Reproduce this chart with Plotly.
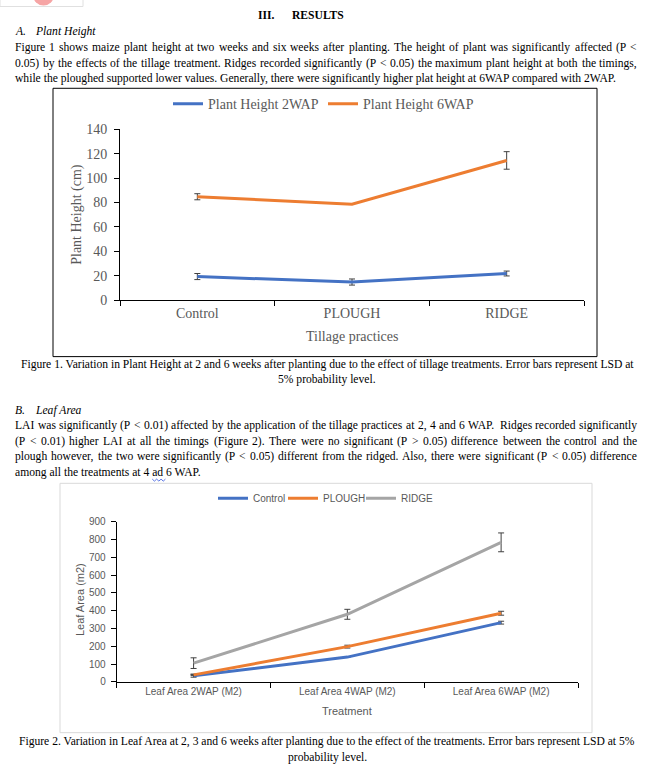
import plotly.graph_objects as go

W, H = 654, 771

# ---------- data ----------
tillage = ["Control", "PLOUGH", "RIDGE"]
height_2wap = [19.3, 14.8, 21.8]
height_2wap_err = [2.5, 2.5, 2.0]
height_6wap = [84.8, 78.6, 114.6]
height_6wap_err = [2.5, 0.0, 7.2]

stages = ["Leaf Area 2WAP (M2)", "Leaf Area 4WAP (M2)", "Leaf Area 6WAP (M2)"]
la_control = [34, 139, 333]
la_control_err = [8, 0, 8]
la_plough = [39, 198, 386]
la_plough_err = [4, 8, 11]
la_ridge = [105, 380, 785]
la_ridge_err = [30, 28, 53]

y1_ticks = [0, 20, 40, 60, 80, 100, 120, 140]
y2_ticks = [0, 100, 200, 300, 400, 500, 600, 700, 800, 900]

BLUE, ORANGE, GREY = "#4472C4", "#ED7D31", "#A5A5A5"
TXT = "#595959"
SERIF = "Liberation Serif, Times New Roman, serif"
SANS = "Liberation Sans, Arial, sans-serif"
BODY = 11.6


def px(x):
    return x / W


def py(y):
    # vertical page position -> paper fraction (with a small calibration)
    yc = (y - 5.5) / 0.983
    return 1 - yc / H


fig = go.Figure()

# ---------- chart 1 ----------
err_style = dict(type="data", color="#404040", thickness=1, width=3, visible=True)
fig.add_trace(go.Scatter(x=tillage, y=height_2wap, mode="lines", name="Plant Height 2WAP",
                         line=dict(color=BLUE, width=3),
                         error_y=dict(array=height_2wap_err, **err_style),
                         xaxis="x", yaxis="y", legend="legend"))
fig.add_trace(go.Scatter(x=tillage, y=height_6wap, mode="lines", name="Plant Height 6WAP",
                         line=dict(color=ORANGE, width=3),
                         error_y=dict(array=height_6wap_err, **err_style),
                         xaxis="x", yaxis="y", legend="legend"))

# ---------- chart 2 ----------
for name, vals, errs, col, lw in [("Control", la_control, la_control_err, BLUE, 25),
                                  ("PLOUGH", la_plough, la_plough_err, ORANGE, 33),
                                  ("RIDGE", la_ridge, la_ridge_err, GREY, 30)]:
    fig.add_trace(go.Scatter(x=stages, y=vals, mode="lines", name=name,
                             line=dict(color=col, width=3), legendwidth=lw,
                             error_y=dict(array=errs, **err_style),
                             xaxis="x2", yaxis="y2", legend="legend2"))

axis_common = dict(showgrid=False, zeroline=False, showline=True, linecolor="#000000",
                   linewidth=1, ticks="outside", ticklen=5, tickcolor="#000000")

fig.update_layout(
    width=W, height=H, margin=dict(l=0, r=0, t=0, b=0),
    paper_bgcolor="white", plot_bgcolor="rgba(0,0,0,0)",
    showlegend=True,
    xaxis=dict(domain=[px(120), px(584)], anchor="y", type="category",
               range=[-0.5, 2.5], tickson="boundaries",
               tickfont=dict(family=SERIF, size=14, color=TXT), **axis_common),
    yaxis=dict(domain=[py(299.3), py(128.3)], anchor="x", range=[0, 140],
               tickvals=y1_ticks, ticklabelstandoff=4,
               tickfont=dict(family=SERIF, size=14, color=TXT), **axis_common),
    xaxis2=dict(domain=[px(116.7), px(578)], anchor="y2", type="category",
                range=[-0.5, 2.5], tickson="boundaries",
                tickfont=dict(family=SANS, size=10, color=TXT), **axis_common),
    yaxis2=dict(domain=[py(682), py(521.7)], anchor="x2", range=[0, 900],
                tickvals=y2_ticks, ticklabelstandoff=3,
                tickfont=dict(family=SANS, size=10, color=TXT), **axis_common),
    legend=dict(orientation="h", x=px(168), xanchor="left", y=py(103), yanchor="middle",
                font=dict(family=SERIF, size=14, color=TXT), bgcolor="rgba(0,0,0,0)",
                entrywidth=110, tracegroupgap=0),
    legend2=dict(orientation="h", x=px(213), xanchor="left", y=py(498), yanchor="middle",
                 font=dict(family=SANS, size=10, color=TXT), bgcolor="rgba(0,0,0,0)",
                 tracegroupgap=0),
)

# ---------- boxes ----------
shapes = [
    dict(type="rect", xref="paper", yref="paper", x0=px(53), x1=px(597), y0=py(356), y1=py(87),
         line=dict(color="#000000", width=1), fillcolor="rgba(0,0,0,0)"),
    dict(type="rect", xref="paper", yref="paper", x0=px(60), x1=px(592), y0=py(733), y1=py(483),
         line=dict(color="#D9D9D9", width=1), fillcolor="rgba(0,0,0,0)"),
    dict(type="rect", xref="paper", yref="paper", x0=px(0), x1=px(83), y0=py(5), y1=py(-8),
         line=dict(color="#E0E0E0", width=1), fillcolor="white"),
    dict(type="circle", xref="paper", yref="paper", x0=px(33), x1=px(54), y0=py(4), y1=py(-17),
         line=dict(width=0), fillcolor="#F6A5A5"),
]

# ---------- text ----------
ann = []

TNR = {' ': 250, '!': 333, '%': 833, "'": 333, '(': 333, ')': 333, ',': 250, '-': 333, '.': 250,
       '/': 278, ':': 278, ';': 278, '<': 564, '=': 564, '>': 564, '?': 444,
       'A': 722, 'B': 667, 'C': 667, 'D': 722, 'E': 611, 'F': 556, 'G': 722, 'H': 722, 'I': 333,
       'J': 389, 'K': 722, 'L': 611, 'M': 889, 'N': 722, 'O': 722, 'P': 556, 'Q': 722, 'R': 667,
       'S': 556, 'T': 611, 'U': 722, 'V': 722, 'W': 944, 'X': 722, 'Y': 722, 'Z': 611,
       'a': 444, 'b': 500, 'c': 444, 'd': 500, 'e': 444, 'f': 333, 'g': 500, 'h': 500, 'i': 278,
       'j': 278, 'k': 500, 'l': 278, 'm': 778, 'n': 500, 'o': 500, 'p': 500, 'q': 500, 'r': 333,
       's': 389, 't': 278, 'u': 500, 'v': 500, 'w': 722, 'x': 500, 'y': 500, 'z': 444}


def tw(s, size=BODY):
    return sum(TNR.get(c, 500) for c in s) * size / 1000.0


def esc(s):
    return s.replace("&", "&amp;").replace("<", "&lt;").replace(">", "&gt;")


def text(x, y, s, size=BODY, anchor="left", fam=SERIF, color="#000000"):
    ann.append(dict(xref="paper", yref="paper", x=px(x), y=py(y), text=s, showarrow=False,
                    xanchor=anchor, yanchor="middle", borderpad=0, borderwidth=0,
                    font=dict(family=fam, size=size, color=color)))


def justified(y, line, x0=15, x1=637):
    words = line.split(" ")
    widths = [tw(w) for w in words]
    gap = (x1 - x0 - sum(widths)) / (len(words) - 1)
    x = x0
    for w, wd in zip(words, widths):
        text(x, y, esc(w))
        x += wd + gap


text(258, 14, "<b>III.</b>")
text(292, 14, "<b>RESULTS</b>")
text(15, 30, "<i>A.</i>")
text(35, 30, "<i>Plant Height</i>")
para1 = [
    "Figure 1 shows maize plant height at two weeks and six weeks after planting. The height of plant was significantly affected (P <",
    "0.05) by the effects of the tillage treatment. Ridges recorded significantly (P < 0.05) the maximum plant height at both the timings,",
    "while the ploughed supported lower values. Generally, there were significantly higher plat height at 6WAP compared with 2WAP.",
]
for i, s in enumerate(para1):
    yy = 46.5 + i * 15.3
    if i < len(para1) - 1:
        justified(yy, s)
    else:
        text(15, yy, esc(s))

text(327, 364, "Figure 1. Variation in Plant Height at 2 and 6 weeks after planting due to the effect of tillage treatments. Error bars represent LSD at", anchor="center")
text(327, 379, "5% probability level.", anchor="center")

text(15, 410, "<i>B.</i>")
text(35, 410, "<i>Leaf Area</i>")
para2 = [
    "LAI was significantly (P < 0.01) affected by the application of the tillage practices at 2, 4 and 6 WAP. Ridges recorded significantly",
    "(P < 0.01) higher LAI at all the timings (Figure 2). There were no significant (P > 0.05) difference between the control and the",
    "plough however, the two were significantly (P < 0.05) different from the ridged. Also, there were significant (P < 0.05) difference",
    "among all the treatments at 4 ad 6 WAP.",
]
for i, s in enumerate(para2):
    yy = 425.5 + i * 15.5
    if i < len(para2) - 1:
        justified(yy, s)
    else:
        text(15, yy, esc(s))

# spell-check squiggle under "ad"
sq_x0 = 15 + tw("among all the treatments at 4 ")
sq_pts = []
for k in range(7):
    sq_pts.append((sq_x0 + k * 2.2, 479.5 + (1.3 if k % 2 else -0.7)))
path = "M " + " L ".join(f"{px(a):.5f},{py(b):.5f}" for a, b in sq_pts)
shapes.append(dict(type="path", xref="paper", yref="paper", path=path,
                   line=dict(color="#3355DD", width=0.8)))

text(327, 742, "Figure 2. Variation in Leaf Area at 2, 3 and 6 weeks after planting due to the effect of the treatments. Error bars represent LSD at 5%", anchor="center")
text(327, 758, "probability level.", anchor="center")

# axis titles
ann.append(dict(xref="paper", yref="paper", x=px(77), y=py(213.8), text="Plant Height (cm)",
                showarrow=False, textangle=-90, xanchor="center", yanchor="middle",
                font=dict(family=SERIF, size=14, color=TXT)))
text(351.7, 335.5, "Tillage practices", size=14, anchor="center", color=TXT)
ann.append(dict(xref="paper", yref="paper", x=px(80), y=py(600), text="Leaf Area (m2)",
                showarrow=False, textangle=-90, xanchor="center", yanchor="middle",
                font=dict(family=SANS, size=11, color=TXT)))
text(347, 711.5, "Treatment", size=11, anchor="center", fam=SANS, color=TXT)

fig.update_layout(annotations=ann, shapes=shapes)

PAGE_JS = (
    "document.body.style.margin='0px';"
    "document.body.style.overflow='hidden';"
)
fig.write_html("out.html", config={"displayModeBar": False}, post_script=PAGE_JS)
